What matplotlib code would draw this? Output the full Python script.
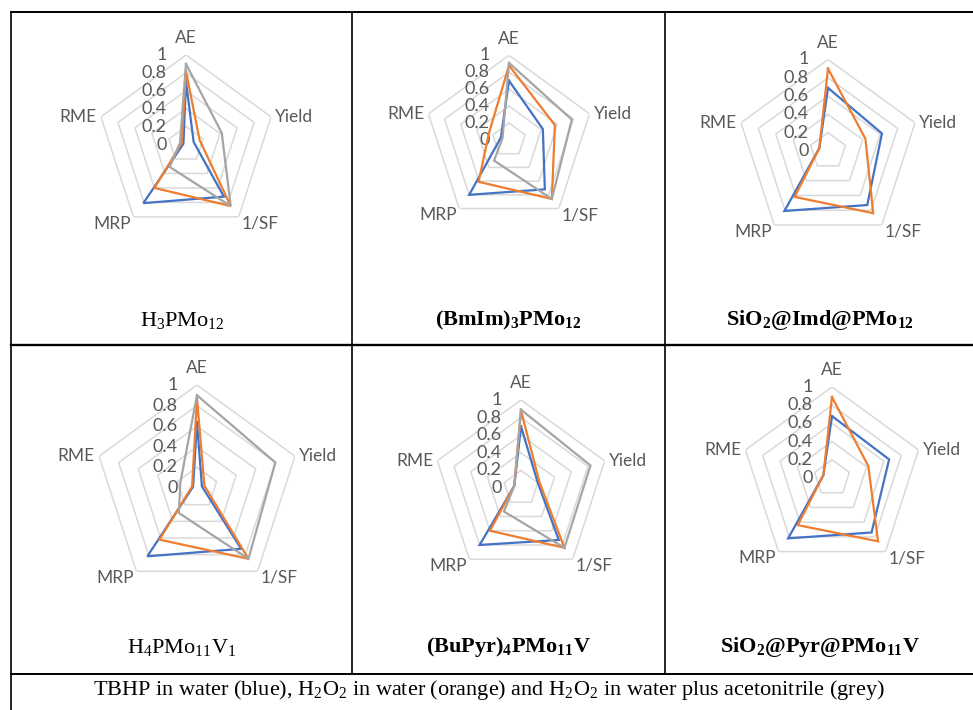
import numpy as np
import matplotlib
matplotlib.use("Agg")
import matplotlib.pyplot as plt
from matplotlib.lines import Line2D

plt.rcParams['mathtext.fontset'] = 'custom'
plt.rcParams['mathtext.rm'] = 'Liberation Serif'
plt.rcParams['mathtext.it'] = 'Liberation Serif:italic'
plt.rcParams['mathtext.bf'] = 'Liberation Serif:bold'

# axes of every radar, clockwise from the top
metrics = ['AE', 'Yield', '1/SF', 'MRP', 'RME']
ticks = [0, 0.2, 0.4, 0.6, 0.8, 1]
tick_labels = ['0', '0.2', '0.4', '0.6', '0.8', '1']

# values per catalyst: [AE, Yield, 1/SF, MRP, RME]
h3pmo12_blue = [0.70, 0.09, 0.72, 0.81, 0.03]
h3pmo12_orange = [0.82, 0.16, 0.85, 0.60, 0.05]
h3pmo12_grey = [0.90, 0.42, 0.85, 0.31, 0.07]

bmim_blue = [0.70, 0.42, 0.72, 0.80, 0.10]
bmim_orange = [0.88, 0.57, 0.86, 0.61, 0.25]
bmim_grey = [0.91, 0.78, 0.86, 0.30, 0.08]

imd_blue = [0.69, 0.62, 0.73, 0.81, 0.10]
imd_orange = [0.90, 0.43, 0.84, 0.62, 0.10]

h4pmo11v_blue = [0.64, 0.05, 0.73, 0.82, 0.04]
h4pmo11v_orange = [0.87, 0.075, 0.85, 0.62, 0.05]
h4pmo11v_grey = [0.90, 0.80, 0.85, 0.30, 0.17]

bupyr_blue = [0.70, 0.20, 0.73, 0.80, 0.08]
bupyr_orange = [0.88, 0.22, 0.84, 0.60, 0.08]
bupyr_grey = [0.89, 0.83, 0.84, 0.33, 0.08]

pyr_blue = [0.68, 0.66, 0.74, 0.82, 0.10]
pyr_orange = [0.89, 0.42, 0.86, 0.64, 0.10]

captions = [r'H$_3$PMo$_{12}$',
            r'(BmIm)$_\mathbf{3}$PMo$_\mathbf{12}$',
            r'SiO$_\mathbf{2}$@Imd@PMo$_\mathbf{12}$',
            r'H$_4$PMo$_{11}$V$_1$',
            r'(BuPyr)$_\mathbf{4}$PMo$_\mathbf{11}$V',
            r'SiO$_\mathbf{2}$@Pyr@PMo$_\mathbf{11}$V']
caption_bold = [False, True, True, False, True, True]
footer = (r'TBHP in water (blue), H$_2$O$_2$ in water (orange) and '
          r'H$_2$O$_2$ in water plus acetonitrile (grey)')

charts = [
    [h3pmo12_blue, h3pmo12_orange, h3pmo12_grey],
    [bmim_blue, bmim_orange, bmim_grey],
    [imd_blue, imd_orange],
    [h4pmo11v_blue, h4pmo11v_orange, h4pmo11v_grey],
    [bupyr_blue, bupyr_orange, bupyr_grey],
    [pyr_blue, pyr_orange],
]

colors = ['#4472C4', '#ED7D31', '#A5A5A5']
GRID = '#D9D9D9'
TXT = '#595959'

W, H = 973, 710
fig = plt.figure(figsize=(W / 100, H / 100), dpi=100)

# radar centre (x, y from top) and outer radius, in pixels
places = [(186, 144.5, 89.5), (509, 140, 84.7), (828, 151, 91.5),
          (197, 488, 103), (521, 488, 88), (832, 478, 91)]
caption_pos = [(182, 320), (508, 320), (820, 320),
               (182, 647), (508, 647), (820, 647)]

n = len(metrics)
angles = np.linspace(0, 2 * np.pi, n, endpoint=False)
closed = np.append(angles, angles[0])

label_style = {
    'AE': ((0, 12), 'center', 'center'),
    'Yield': ((3, 0), 'left', 'center'),
    '1/SF': ((2, 1), 'left', 'top'),
    'MRP': ((-2, 1), 'right', 'top'),
    'RME': ((-3, 0), 'right', 'center'),
}

for (cx, cy, R), series in zip(places, charts):
    ax = fig.add_axes([(cx - R) / W, (H - cy - R) / H, 2 * R / W, 2 * R / H],
                      projection='polar')
    ax.set_theta_offset(np.pi / 2)
    ax.set_theta_direction(-1)
    ax.set_ylim(0, 1)
    ax.set_xticks([])
    ax.set_yticks([])
    ax.grid(False)
    ax.spines['polar'].set_visible(False)
    ax.patch.set_alpha(0)

    for r in ticks[1:]:
        ax.plot(closed, [r] * (n + 1), color=GRID, lw=1.1, zorder=1)

    for vals, c in zip(series, colors):
        v = np.append(vals, vals[0])
        ax.plot(closed, v, color=c, lw=1.6, zorder=3, solid_joinstyle='miter')

    for t, lab in zip(ticks, tick_labels):
        ax.annotate(lab, xy=(0, t), xytext=(-14, 0), textcoords='offset points',
                    ha='right', va='center', fontsize=13, color=TXT,
                    family='Lato', annotation_clip=False, zorder=2)

    for a, m in zip(angles, metrics):
        off, ha, va = label_style[m]
        ax.annotate(m, xy=(a, 1), xytext=off, textcoords='offset points',
                    ha=ha, va=va, fontsize=12.5, color=TXT, family='Lato',
                    annotation_clip=False)

for (x, y), cap, b in zip(caption_pos, captions, caption_bold):
    fig.text(x / W, 1 - y / H, cap, ha='center', va='center', fontsize=16,
             family='Liberation Serif', fontweight='bold' if b else 'normal')

fig.text(489 / W, 1 - 690 / H, footer, ha='center', va='center', fontsize=16,
         family='Liberation Serif')


def line(x0, y0, x1, y1, lw=1.2):
    fig.add_artist(Line2D([x0 / W, x1 / W], [1 - y0 / H, 1 - y1 / H],
                          color='black', lw=lw, transform=fig.transFigure))


line(11, 12, 973, 12, 1.4)
line(11, 345, 973, 345, 1.7)
line(11, 674, 973, 674, 1.4)
line(11, 12, 11, 710)
line(352, 12, 352, 674)
line(665, 12, 665, 674)

fig.savefig('out.png', dpi=100)
